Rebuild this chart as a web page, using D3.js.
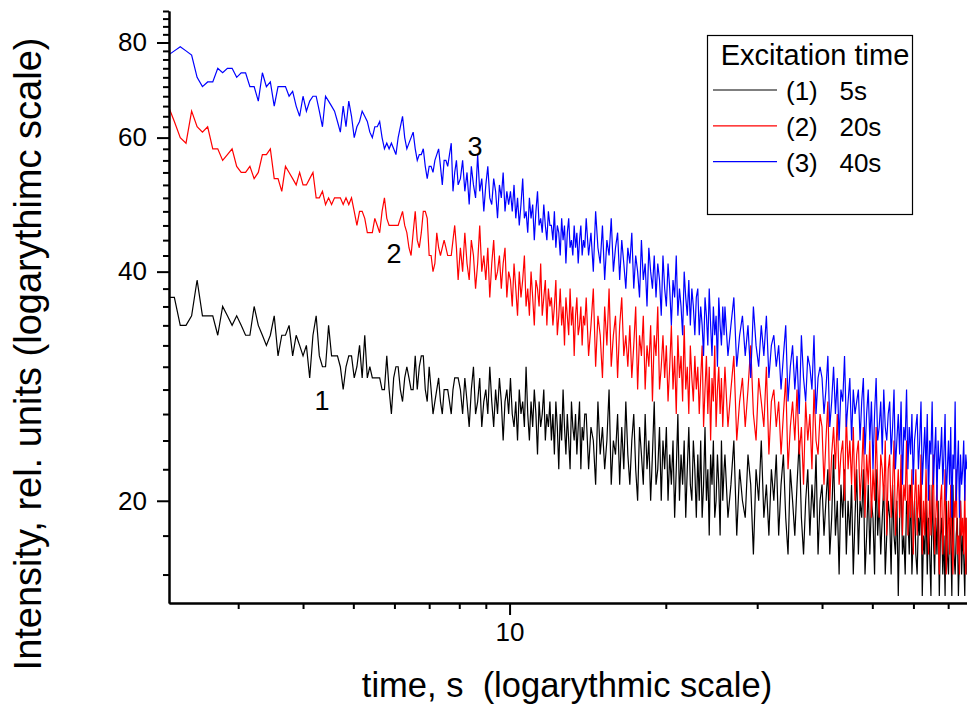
<!DOCTYPE html>
<html>
<head>
<meta charset="utf-8">
<script src="https://cdn.jsdelivr.net/npm/d3@7"></script>
<style>
body { margin: 0; background: #fff; }
svg { display: block; font-family: "Liberation Sans", Arial, sans-serif; }
</style>
</head>
<body>
<svg id="chart" width="967" height="708"></svg>
<script>
// sampling grid of the recorded decays (seconds): start, step, number of samples
const segStart = [2.2, 8.04, 14.05, 26.0];
const segStep = [0.06, 0.08, 0.15, 0.35];
const segCount = [97, 75, 80, 144];

// intensity (rel. units)
const curve1 = [
  37,37,34,34,35,39,35,35,35,33, 36,35,34,35,34,33,33,36,34,33,
  32,33,35,31,33,33,34,31,33,32, 31,32,29,33,35,31,30,30,34,31,
  31,31,30,28,30,31,31,29,30,32, 29,33,29,30,29,29,29,29,28,28,
  31,28,26,29,30,30,28,27,29,30, 29,28,28,31,28,30,31,31,28,27,
  30,28,26,27,28,29,27,26,28,28, 28,27,26,28,29,29,29,
  28,26,29,27,25,28,30,26,27,29,25,27,28,26,30,27,25,28,26,29,27,24,27,28,26,
  29,26,25,27,24,28,26,27,25,30,26,24,27,25,28,26,23,27,25,26,28,24,26,25,27,
  24,26,23,27,25,22,26,24,28,25,23,26,24,22,27,25,24,26,23,25,27,22,25,24,26,
  26,22,25,24,21,27,23,25,22,24,28,21,24,23,26,21,25,22,27,23,
  21,24,26,22,20,25,23,21,26,22,24,20,23,27,21,22,25,20,24,22,
  25,20,23,21,24,19,22,26,20,23,21,24,19,22,25,21,20,24,22,19,
  23,20,24,19,21,25,20,22,18,23,21,24,19,20,23,21,18,24,20,22,
  23,19,21,24,18,22,20,19,23,21,17,22,20,24,19,21,18,22,20,23,
  18,21,23,19,17,22,20,18,21,24,19,17,20,22,18,21,19,23,17,20,
  21,18,20,22,17,19,23,18,20,16,21,19,22,17,20,18,21,16,19,22,
  17,20,19,22,16,18,21,17,20,19,16,22,18,20,17,19,21,16,18,20,
  19,16,21,18,17,20,15,19,22,17,18,16,20,19,17,21,16,18,20,17,
  16,19,18,21,15,18,17,20,16,19,17,15,21,18,16,19,17,20,15,18,
  19,16,18,15,20,17,16,19,18,15,21,17,16,18,19,15,17,20,16,18,
  17,15,19,16
];
const curve2 = [
  66,63,60,59,65,62,61,62,58,58, 56,57,58,55,54,54,55,53,54,57,
  57,58,53,53,51,55,54,53,52,54, 52,52,53,54,50,50,51,49,50,49,
  50,50,50,49,50,49,50,48,46,48, 48,47,45,45,45,47,46,45,48,50,
  47,46,46,46,46,46,47,48,46,45, 43,42,45,48,44,43,45,48,48,47,
  42,42,40,41,45,43,42,43,44,43, 42,42,42,44,46,43,39,
  43,40,45,41,39,44,42,38,41,46,40,42,39,43,37,41,44,39,40,42,38,41,43,37,40,
  39,36,41,38,35,40,37,39,42,36,38,35,40,37,34,39,38,36,41,35,37,39,34,38,36,
  37,34,36,39,33,35,38,34,36,32,37,35,33,38,34,36,31,35,37,33,34,36,32,35,34,
  37,31,34,38,30,35,33,29,36,32,38,30,33,35,29,34,37,31,33,30,
  34,29,32,36,28,33,31,35,28,32,30,34,27,33,31,36,28,30,33,29,
  32,27,30,34,28,31,26,33,29,31,27,34,28,30,26,32,29,27,31,28,
  30,26,29,32,25,28,31,26,30,24,29,27,32,25,28,30,26,29,25,28,
  30,25,28,31,24,27,29,25,28,32,26,24,29,27,25,30,23,27,28,25,
  27,23,26,29,22,25,27,24,28,23,25,21,27,24,26,22,28,24,23,26,
  25,21,24,27,20,23,25,22,26,21,23,24,20,26,22,24,21,25,20,23,
  24,20,22,25,19,23,21,24,19,22,20,25,21,19,23,22,20,24,18,22,
  23,19,21,24,18,20,22,19,23,18,21,20,24,18,21,19,22,17,20,22,
  18,21,19,23,17,20,18,22,19,17,21,18,20,23,17,19,21,18,16,20,
  21,17,19,22,16,18,20,17,21,18,16,20,19,22,17,18,16,20,18,19,
  17,21,16,19
];
const curve3 = [
  77,78,79,78,77,72,70,71,71,74, 73,74,74,72,73,73,70,70,67,73,
  70,71,66,70,70,70,68,69,66,64, 68,65,67,68,68,65,62,68,67,66,
  65,63,61,66,62,67,64,60,62,63, 65,64,63,61,60,62,62,63,60,58,
  59,58,59,58,57,60,62,64,60,58, 59,60,61,58,56,57,57,58,55,53,
  55,55,54,56,57,58,55,52,56,56, 55,57,59,51,54,56,52,
  53,56,51,54,49,55,52,50,57,51,53,48,52,55,50,49,53,51,47,52,50,54,48,51,49,
  51,48,52,47,50,46,49,53,47,48,45,50,47,49,44,48,51,46,47,45,49,46,44,48,46,
  46,44,48,43,46,45,42,47,44,46,41,45,47,43,44,42,46,43,45,41,44,46,42,44,43,
  47,42,45,40,48,43,41,46,39,44,42,47,40,43,45,39,44,41,38,43,
  41,45,38,42,40,37,44,39,41,36,43,40,38,42,37,41,39,35,42,38,
  36,41,38,34,39,37,42,35,38,36,33,40,37,35,39,34,38,36,33,37,
  38,33,36,34,31,37,35,32,38,34,31,36,33,35,30,37,34,32,36,33,
  36,31,34,37,30,33,35,31,34,29,36,32,30,34,31,35,29,32,33,30,
  32,28,31,34,27,30,32,28,31,26,33,29,27,31,30,28,33,26,29,30,
  29,26,28,31,25,27,30,26,29,24,28,27,31,25,27,29,24,28,26,27,
  28,24,27,29,23,26,28,24,27,22,26,29,24,25,27,23,28,25,24,26,
  27,23,25,28,22,24,26,23,27,21,25,24,28,22,25,23,26,21,24,25,
  26,22,24,27,21,23,25,22,26,20,24,23,27,21,23,25,20,24,22,23,
  25,21,23,26,20,22,24,21,25,19,23,22,27,20,22,24,19,23,21,22,
  24,20,23,22
];

const seriesLabels = ["(1)   5s", "(2)   20s", "(3)   40s"];
const seriesColors = ["#000000", "#ff0000", "#0000ff"];
const curveTags = ["1", "2", "3"];
const curveTagTime = [4.35, 5.99, 8.58];
const curveTagValue = [26.3, 41.0, 56.7];

const xMajorTicks = [10];
const xMinorTicks = [3, 4, 5, 6, 7, 8, 9, 20, 30, 40, 50, 60, 70];
const yMajorTicks = [20, 40, 60, 80];
const yMinorTicks = d3.range(16, 89, 2).filter(v => !yMajorTicks.includes(v));

const legendTitle = "Excitation time";
const xTitle = "time, s  (logarythmic scale)";
const yTitle = "Intensity, rel. units (logarythimc scale)";

let times = [];
segStart.forEach((s, k) => {
    for (let i = 0; i < segCount[k]; i++) times.push(+(s + i * segStep[k]).toFixed(3));
});

let svg = d3.select("#chart");
let plotLeft = 169, plotRight = 967, plotTop = 11, plotBottom = 603;

let x = d3.scaleLog().domain([2.207, 76.1]).range([plotLeft, plotRight]);
let y = d3.scaleLog().domain([14.68, 88]).range([plotBottom, plotTop]);

svg.append("defs").append("clipPath").attr("id", "plotClip")
    .append("rect").attr("x", plotLeft).attr("y", plotTop)
    .attr("width", plotRight - plotLeft).attr("height", plotBottom - plotTop);

// curves
let line = d3.line().x(d => x(d[0])).y(d => y(d[1]));
let curves = [curve1, curve2, curve3];
let plot = svg.append("g").attr("clip-path", "url(#plotClip)");
curves.forEach((c, k) => {
    let n = Math.min(c.length, times.length);
    let pts = d3.range(n).map(i => [times[i], c[i]]);
    plot.append("path")
        .datum(pts)
        .attr("fill", "none")
        .attr("stroke", seriesColors[k])
        .attr("stroke-width", 1.2)
        .attr("d", line);
});

// axes
function styleAxis(g) {
    g.attr("font-family", null).attr("font-size", null);
    g.selectAll("path.domain").attr("stroke", "#000").attr("stroke-width", 2);
    g.selectAll(".tick line").attr("stroke", "#000").attr("stroke-width", 2);
    g.selectAll(".tick text").attr("fill", "#000").style("font-size", "26px");
}

svg.append("g")
    .attr("transform", `translate(0,${plotBottom})`)
    .call(d3.axisBottom(x).tickValues(xMinorTicks).tickSize(6).tickSizeOuter(0).tickFormat(""))
    .call(styleAxis);
svg.append("g")
    .attr("transform", `translate(0,${plotBottom})`)
    .call(d3.axisBottom(x).tickValues(xMajorTicks).tickSize(12).tickSizeOuter(0).tickPadding(8).tickFormat(d3.format("d")))
    .call(styleAxis);

svg.append("g")
    .attr("transform", `translate(${plotLeft},0)`)
    .call(d3.axisLeft(y).tickValues(yMinorTicks).tickSize(6).tickSizeOuter(0).tickFormat(""))
    .call(styleAxis);
svg.append("g")
    .attr("transform", `translate(${plotLeft},0)`)
    .call(d3.axisLeft(y).tickValues(yMajorTicks).tickSize(12).tickSizeOuter(0).tickPadding(10).tickFormat(d3.format("d")))
    .call(styleAxis);

// axis titles
svg.append("text")
    .attr("x", 567).attr("y", 697)
    .attr("text-anchor", "middle")
    .attr("xml:space", "preserve")
    .style("font-size", "34.5px")
    .text(xTitle);

svg.append("text")
    .attr("transform", "translate(41,354) rotate(-90)")
    .attr("text-anchor", "middle")
    .style("font-size", "38px")
    .text(yTitle);

// curve numbers
curveTags.forEach((tag, k) => {
    svg.append("text")
        .attr("x", x(curveTagTime[k]))
        .attr("y", y(curveTagValue[k]))
        .attr("text-anchor", "middle")
        .style("font-size", "27px")
        .text(tag);
});

// legend
let legend = svg.append("g");
legend.append("rect")
    .attr("x", 707.5).attr("y", 35.5).attr("width", 205).attr("height", 179)
    .attr("fill", "#fff").attr("stroke", "#000").attr("stroke-width", 1.2);
legend.append("text")
    .attr("x", 815).attr("y", 65)
    .attr("text-anchor", "middle")
    .style("font-size", "29px")
    .text(legendTitle);
seriesLabels.forEach((lab, k) => {
    let ly = 90 + k * 35.8;
    legend.append("line")
        .attr("x1", 713).attr("x2", 777).attr("y1", ly).attr("y2", ly)
        .attr("stroke", seriesColors[k]).attr("stroke-width", 1.2);
    legend.append("text")
        .attr("x", 786).attr("y", ly + 10)
        .attr("xml:space", "preserve")
        .style("font-size", "26px")
        .style("white-space", "pre")
        .text(lab);
});
</script>
</body>
</html>
